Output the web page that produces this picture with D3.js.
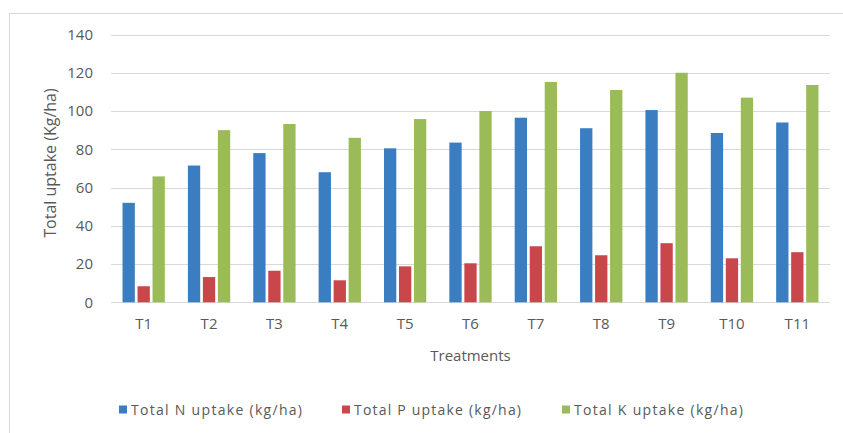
<!DOCTYPE html>
<html>
<head>
<meta charset="utf-8">
<script src="https://cdn.jsdelivr.net/npm/d3@7"></script>
<style>
  html, body { margin: 0; padding: 0; background: #fff; }
  svg { display: block; }
  text { font-family: "Open Sans", "DejaVu Sans", sans-serif; fill: #595959; }
</style>
</head>
<body>
<svg id="chart" width="843" height="433"></svg>
<script>
// Treatments and nutrient uptake per treatment (kg/ha)
const treatments = ["T1", "T2", "T3", "T4", "T5", "T6", "T7", "T8", "T9", "T10", "T11"];
const nUptake = [52, 71.5, 78, 68, 80.5, 83.5, 96.5, 91, 100.5, 88.5, 94];
const pUptake = [8.4, 13.2, 16.5, 11.5, 18.8, 20.4, 29.3, 24.6, 30.9, 23, 26.2];
const kUptake = [65.8, 90, 93.2, 86, 95.8, 100, 115.2, 111, 120, 107, 113.6];
const seriesNames = ["Total N uptake (kg/ha)", "Total P uptake (kg/ha)", "Total K uptake (kg/ha)"];
const seriesColors = ["#3A7DC0", "#C9474A", "#9BBB59"];
const yTicks = [0, 20, 40, 60, 80, 100, 120, 140];

const series = [nUptake, pUptake, kUptake];
const svg = d3.select("#chart");

// chart frame
svg.append("rect")
  .attr("x", 9.5).attr("y", 13.5)
  .attr("width", 850).attr("height", 440)
  .attr("fill", "none").attr("stroke", "#D9D9D9").attr("stroke-width", 1);

const plot = { left: 111, right: 830, top: 34.5, bottom: 302.3 };

const x = d3.scaleBand().domain(treatments).range([plot.left, plot.right]).paddingInner(0).paddingOuter(0);
const y = d3.scaleLinear().domain([0, 140]).range([plot.bottom, plot.top]);

// horizontal gridlines
svg.append("g").selectAll("line").data(yTicks).join("line")
  .attr("x1", plot.left).attr("x2", plot.right)
  .attr("y1", d => Math.round(y(d)) + 0.5).attr("y2", d => Math.round(y(d)) + 0.5)
  .attr("stroke", "#D9D9D9").attr("stroke-width", 1);

// y axis tick labels
const yAxis = d3.axisLeft(y).tickValues(yTicks).tickSize(0).tickPadding(0);
const gy = svg.append("g").attr("transform", `translate(${plot.left - 18},0)`).call(yAxis);
gy.select(".domain").remove();
gy.selectAll("text").style("font-size", "15px").attr("fill", "#595959")
  .attr("font-family", "\"Open Sans\", sans-serif");

// x axis labels
const xAxis = d3.axisBottom(x).tickSize(0).tickPadding(0);
const gx = svg.append("g").attr("transform", `translate(0,${plot.bottom + 16})`).call(xAxis);
gx.select(".domain").remove();
gx.selectAll("text").style("font-size", "15px").attr("fill", "#595959")
  .attr("font-family", "\"Open Sans\", sans-serif");

// grouped bars inside each band
const barW = 12.3, barGap = 2.7;
const groupW = 3 * barW + 2 * barGap;
const xs = d3.scaleBand().domain(d3.range(3)).range([0, groupW]).paddingInner(barGap / (barW + barGap)).paddingOuter(0);

series.forEach((vals, si) => {
  svg.append("g").selectAll("rect").data(vals).join("rect")
    .attr("x", (d, i) => x(treatments[i]) + (x.bandwidth() - groupW) / 2 + xs(si))
    .attr("width", xs.bandwidth())
    .attr("y", d => y(d))
    .attr("height", d => y(0) - y(d))
    .attr("fill", seriesColors[si]);
});

// axis titles
svg.append("text")
  .attr("x", (plot.left + plot.right) / 2).attr("y", 361)
  .attr("text-anchor", "middle").style("font-size", "15px")
  .text("Treatments");

svg.append("text")
  .attr("transform", `translate(55.5,163) rotate(-90)`)
  .attr("text-anchor", "middle").style("font-size", "16px")
  .text("Total uptake (Kg/ha)");

// legend
const legendX = [119, 342, 562];
const legendW = [171, 167, 169];
const lg = svg.append("g").selectAll("g").data(seriesNames).join("g")
  .attr("transform", (d, i) => `translate(${legendX[i]},410)`);
lg.append("rect").attr("x", 0).attr("y", -4.5).attr("width", 8).attr("height", 8)
  .attr("fill", (d, i) => seriesColors[i]);
lg.append("text").attr("x", 12).attr("y", 0).attr("dy", "0.35em")
  .attr("textLength", (d, i) => legendW[i]).attr("lengthAdjust", "spacing")
  .style("font-size", "14px").text(d => d);
</script>
</body>
</html>
